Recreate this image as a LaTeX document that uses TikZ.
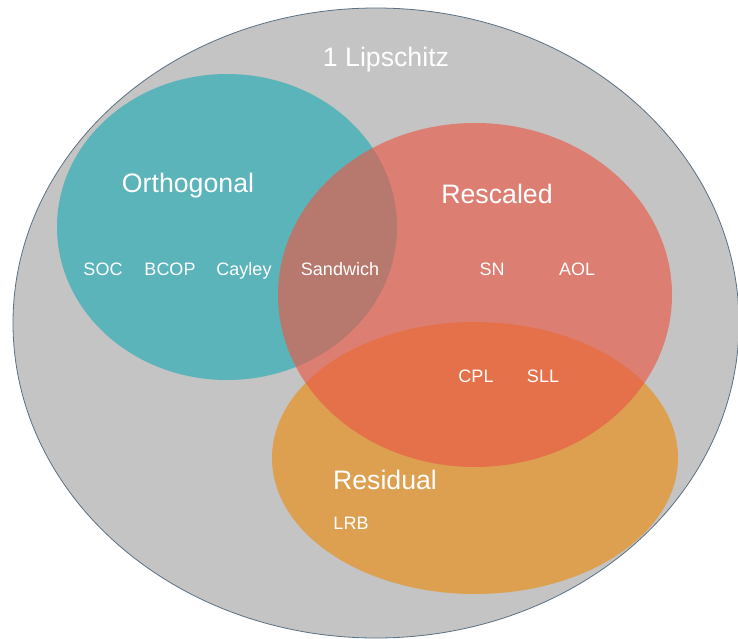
\documentclass[tikz,border=0pt]{standalone}
\usepackage{fontspec}
\setmainfont{Liberation Sans}
\usepackage{tikz}
\usetikzlibrary{positioning}
\usepackage{xcolor}
\definecolor{OuterGray}{HTML}{C4C4C4}
\definecolor{OuterEdge}{HTML}{5B7083}
\definecolor{OrthoTeal}{HTML}{5AB4B9}
\definecolor{RescRed}{RGB}{233,89,71}
\definecolor{ResidOrange}{HTML}{DDA050}

\begin{document}
\begin{tikzpicture}[x=1pt,y=-1pt,
  setname/.style={anchor=base,text=white,font=\fontsize{26.7}{30}\selectfont},
  method/.style={anchor=base,text=white,font=\fontsize{18}{21}\selectfont}]
  \useasboundingbox (0,0) rectangle (738,639);
  % Nested classes of 1-Lipschitz layers
  \filldraw[fill=OuterGray,draw=OuterEdge,line width=0.8pt] (376,323) ellipse [x radius=363,y radius=315];
  \fill[OrthoTeal] (227,227) ellipse [x radius=170,y radius=153];
  \fill[ResidOrange] (475,458) ellipse [x radius=203,y radius=136];
  \fill[RescRed,opacity=0.65] (475,295) ellipse [x radius=197,y radius=172];
  \node[setname] (lip) at (386,67) {1 Lipschitz};
  \node[setname] (orth) at (188,192) {Orthogonal};
  \node[setname] (resc) at (497,203) {Rescaled};
  \node[setname] (resid) at (385,489) {Residual};
  \foreach \name/\x/\y/\txt in {soc/103/275/SOC,bcop/170/275/BCOP,cayley/244/275/Cayley,
      sandwich/340/275/Sandwich,sn/492/275/SN,aol/577/275/AOL,
      cpl/476/382/CPL,sll/543/382/SLL,lrb/351/529/LRB}{
    \node[method] (\name) at (\x,\y) {\txt};
  }
\end{tikzpicture}
\end{document}
